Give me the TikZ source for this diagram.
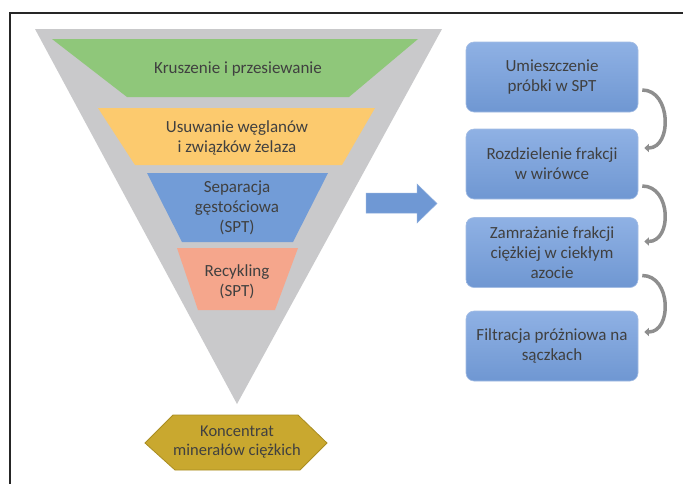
\documentclass[tikz,border=0pt]{standalone}
\usepackage{fontspec}
\setmainfont{Carlito}
\usetikzlibrary{arrows.meta,calc}
\definecolor{funnelgray}{HTML}{C9C9CB}
\definecolor{fgreen}{HTML}{8FC77A}
\definecolor{fyellow}{HTML}{FCCA6E}
\definecolor{fblue}{HTML}{729CD7}
\definecolor{fsalmon}{HTML}{F5A68C}
\definecolor{hexfill}{HTML}{C9A82F}
\definecolor{hexedge}{HTML}{A98D22}
\definecolor{textgray}{HTML}{404040}
\definecolor{boxtop}{HTML}{8FB1E4}
\definecolor{boxbot}{HTML}{6F97D2}
\definecolor{boxedge}{HTML}{A4BDE4}
\definecolor{arrowgray}{HTML}{8E8E8E}
\definecolor{bigarrow}{HTML}{6F98D4}
\begin{document}
\begin{tikzpicture}[x=1pt,y=-1pt,
  txt/.style={align=center,text=textgray,font=\fontsize{17}{20}\selectfont,inner sep=0pt},
  rbox/.style={rounded corners=8pt,top color=boxtop,bottom color=boxbot,draw=boxedge,line width=0.6pt,
    minimum width=172pt,minimum height=70pt,align=center,text=textgray,
    font=\fontsize{17}{20}\selectfont,inner sep=2pt},
  carrow/.style={draw=arrowgray,line width=3.5pt,-{Triangle[length=4.5pt,width=8pt]}}]
\useasboundingbox (0,0) rectangle (683,483);
\fill[white] (0,0) rectangle (683,483);
% frame
\draw[line width=1.3pt,black!85] (10,490) -- (10,13) -- (690,13);
% funnel
\fill[funnelgray] (35,29) -- (442,29) -- (237,404) -- cycle;
\fill[fgreen] (52,39) -- (418,39) -- (349,97) -- (127,97) -- cycle;
\fill[fyellow] (98,108) -- (375,108) -- (342,165) -- (135,165) -- cycle;
\fill[fblue] (147,173) -- (328,173) -- (293,242) -- (182,242) -- cycle;
\fill[fsalmon] (177,248) -- (298,248) -- (275,310) -- (198,310) -- cycle;
\node[txt] (t1) at (238,69) {Kruszenie i przesiewanie};
\node[txt] (t2) at (237,138) {Usuwanie węglanów\\i związków żelaza};
\node[txt] (t3) at (237,208) {Separacja\\gęstościowa\\(SPT)};
\node[txt] (t4) at (237,282) {Recykling\\(SPT)};
% hexagon
\filldraw[fill=hexfill,draw=hexedge,line width=0.8pt] (145,443) -- (173,415) -- (298,415) -- (327,443) -- (300,470) -- (175,470) -- cycle;
\node[txt,font=\fontsize{16.5}{19.5}\selectfont] (hex) at (237,442) {Koncentrat\\minerałów ciężkich};
% big arrow
\filldraw[fill=bigarrow,draw=bigarrow!80!white,line width=0.5pt] (366,193) -- (417,193) -- (417,184) -- (437,203.5) -- (417,223) -- (417,213) -- (366,213) -- cycle;
% right boxes
\node[rbox] (b1) at (552,77) {Umieszczenie\\próbki w SPT};
\node[rbox] (b2) at (552,164) {Rozdzielenie frakcji\\w wirówce};
\node[rbox] (b3) at (552,252.5) {Zamrażanie frakcji\\ciężkiej w ciekłym\\azocie};
\node[rbox] (b4) at (552,346) {Filtracja próżniowa na\\sączkach};
% curved arrows
\draw[carrow] ($(b1.east)+(4,13)$) .. controls +(29,0) and +(28,0) .. ($(b2.east)+(6,-16)$);
\draw[carrow] ($(b2.east)+(4,22)$) .. controls +(29,0) and +(28,0) .. ($(b3.east)+(6,-11)$);
\draw[carrow] ($(b3.east)+(4,23)$) .. controls +(29,0) and +(28,0) .. ($(b4.east)+(6,-14)$);
\end{tikzpicture}
\end{document}
